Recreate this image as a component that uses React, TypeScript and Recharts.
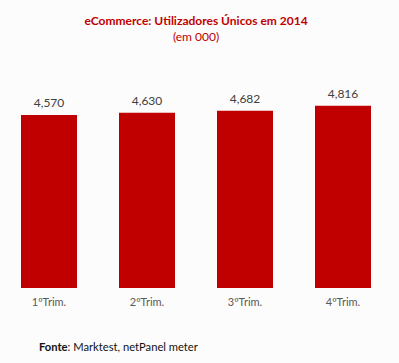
import React from 'react';
import { BarChart, Bar, XAxis, YAxis, LabelList } from 'recharts';

const quarters = ['1ºTrim.', '2ºTrim.', '3ºTrim.', '4ºTrim.'];
const users = [4570, 4630, 4682, 4816];

const data = quarters.map((q, i) => ({ quarter: q, users: users[i] }));

const font = 'Lato, "Open Sans", sans-serif';
const red = '#C00000';

const App: React.FC = () => {
  return (
    <div style={{ position: 'relative', width: 399, height: 363, background: '#fcfcfc', fontFamily: font }}>
      <style>{`body{margin:0}`}</style>
      <div style={{ position: 'absolute', top: 13, left: 0, width: 392, textAlign: 'center', color: red, fontSize: 12, lineHeight: '16px' }}>
        <div style={{ fontWeight: 700 }}>eCommerce: Utilizadores Únicos em 2014</div>
        <div>(em 000)</div>
      </div>
      <BarChart width={399} height={363} data={data} margin={{ top: 61, right: 7, bottom: 45, left: 0 }} barCategoryGap={21}>
        <XAxis
          dataKey="quarter"
          axisLine={false}
          tickLine={false}
          tick={{ fill: '#595959', fontSize: 11, fontFamily: font }}
          tickMargin={4}
        />
        <YAxis hide domain={[0, 6000]} />
        <Bar dataKey="users" fill={red} isAnimationActive={false}>
          <LabelList
            dataKey="users"
            position="top"
            offset={8}
            formatter={(v: number) => v.toLocaleString('en-US')}
            style={{ fill: '#404040', fontSize: 12, fontFamily: font }}
          />
        </Bar>
      </BarChart>
      <div style={{ position: 'absolute', top: 340, left: 39, fontSize: 11.2, color: '#111' }}>
        <span style={{ fontWeight: 700 }}>Fonte</span>: Marktest, netPanel meter
      </div>
    </div>
  );
};

export default App;
